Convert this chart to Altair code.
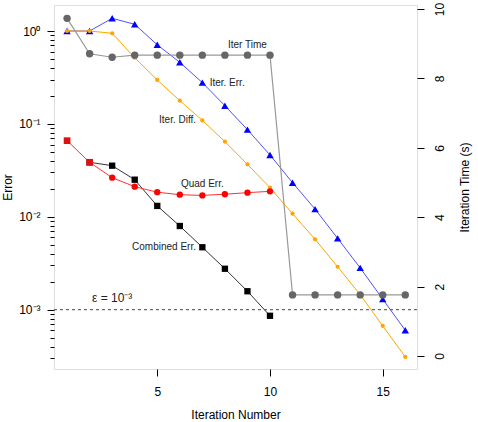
import altair as alt
import pandas as pd

# ---- data -------------------------------------------------------------
iters = list(range(1, 17))
iter_err = [1.0, 1.0, 1.37, 1.18, 0.71, 0.46, 0.278, 0.157, 0.0867, 0.0463,
            0.0233, 0.0121, 0.00586, 0.00282, 0.0013, 0.0006]
iter_diff = [1.0, 1.0, 0.945, 0.516, 0.297, 0.178, 0.109, 0.0645, 0.0367,
             0.0206, 0.0108, 0.00573, 0.0029, 0.00145, 0.00067, 0.00031]
iter_time = [9.73, 8.71, 8.61, 8.67, 8.67, 8.67, 8.67, 8.67, 8.67, 8.67,
             1.76, 1.76, 1.76, 1.76, 1.76, 1.76]

quad_iters = list(range(1, 11))
quad_err = [0.066, 0.0386, 0.0264, 0.0211, 0.0184, 0.0173, 0.0170, 0.0175,
            0.0182, 0.0188]

comb_iters = list(range(2, 11))
comb_err = [0.0386, 0.0355, 0.0251, 0.0131, 0.00796, 0.0047, 0.00276,
            0.00158, 0.00086]

epsilon = 1e-3

label_text = ["Iter Time", "Iter. Err.", "Iter. Diff.", "Quad Err.",
              "Combined Err."]
label_x = [9.0, 8.1, 5.9, 7.0, 5.3]
label_y = [0.70, 0.278, 0.110, 0.0225, 0.00476]

eps_text = ["\u03b5 = 10\u207b\u00b3"]
eps_x = [3.0]
eps_y = [0.00133]

x_ticks = [5, 10, 15]
time_ticks = [0, 2, 4, 6, 8, 10]

# ---- tables -----------------------------------------------------------
main_df = pd.DataFrame({"iter": iters, "err": iter_err, "diff": iter_diff,
                        "time": iter_time})
quad_df = pd.DataFrame({"iter": quad_iters, "err": quad_err})
comb_df = pd.DataFrame({"iter": comb_iters, "err": comb_err})
eps_df = pd.DataFrame({"eps": [epsilon]})
lab_df = pd.DataFrame({"text": label_text, "x": label_x, "y": label_y})
eps_lab_df = pd.DataFrame({"text": eps_text, "x": eps_x, "y": eps_y})

# log-axis ticks: decades plus the 2..9 multiples in between
major = [1.0, 0.1, 0.01, 0.001]
minor = [k * 10.0 ** e for e in range(-4, 0) for k in range(2, 10)]
lo, hi = 2.30e-4, 1.905
left_vals = sorted(v for v in major + minor if lo <= v <= hi)

FONT = "Liberation Sans"
LOGE = "round(log(datum.value)/LN10)"
IS_MAJOR = f"abs(log(datum.value)/LN10 - {LOGE}) < 0.01"
SUP = (f"({LOGE} == 0 ? '\u2070' : {LOGE} == -1 ? '\u207b\u00b9' : "
       f"{LOGE} == -2 ? '\u207b\u00b2' : '\u207b\u00b3')")

x_scale = alt.Scale(domain=[0.42, 16.52], nice=False, zero=False)
err_scale = alt.Scale(type="log", domain=[lo, hi], nice=False)
time_scale = alt.Scale(domain=[-0.375, 10.115], nice=False, zero=False)

x_axis = alt.Axis(values=x_ticks, title="Iteration Number", grid=False,
                  domain=False, tickSize=7, tickColor="black",
                  labelFontSize=12, labelFont=FONT, labelPadding=10,
                  labelColor="black", titleFont=FONT, titleFontSize=12,
                  titleFontWeight="normal", titlePadding=12,
                  titleColor="black")

left_axis = alt.Axis(values=left_vals, title="Error", grid=False,
                     domain=False, tickColor="black",
                     tickSize={"condition": {"test": IS_MAJOR, "value": 7},
                               "value": 4},
                     labelExpr=f"{IS_MAJOR} ? '10' + {SUP} : ''",
                     labelFontSize=12, labelFont=FONT, labelPadding=7,
                     labelColor="black", titleFont=FONT, titleFontSize=12,
                     titleFontWeight="normal", titlePadding=4,
                     titleColor="black")

right_axis = alt.Axis(values=time_ticks, title="Iteration Time (s)",
                      orient="right", grid=False, domain=False,
                      tickSize=7, tickColor="black", labelAngle=270,
                      labelAlign="center", labelBaseline="top",
                      labelFontSize=12, labelFont=FONT, labelPadding=10,
                      labelColor="black", titleFont=FONT, titleFontSize=12,
                      titleFontWeight="normal", titlePadding=26,
                      titleAngle=270, titleBaseline="bottom",
                      titleColor="black")

X = alt.X("iter:Q", scale=x_scale, axis=x_axis)


def err_y(field):
    return alt.Y(f"{field}:Q", scale=err_scale, axis=left_axis)


def series(df, field, color, shape, size, line_color):
    base = alt.Chart(df).encode(x=X, y=err_y(field))
    line = base.mark_line(color=line_color, strokeWidth=1)
    pts = base.mark_point(shape=shape, filled=True, size=size, color=color,
                          opacity=1)
    return line, pts


blue_l, blue_p = series(main_df, "err", "#0000ff", "triangle-up", 55, "#5050ff")
orng_l, orng_p = series(main_df, "diff", "#ffa500", "circle", 18, "#ffa500")
blk_l, blk_p = series(comb_df, "err", "#000000", "square", 40, "#333333")

red_base = alt.Chart(quad_df).encode(x=X, y=err_y("err"))
red_l = red_base.mark_line(color="#ff3030", strokeWidth=1)
red_c = red_base.transform_filter("datum.iter >= 3").mark_point(
    shape="circle", filled=True, size=40, color="#ff0000", opacity=1)
red_s = red_base.transform_filter("datum.iter <= 2").mark_point(
    shape="square", filled=True, size=45, color="#e01010", opacity=1)

eps_rule = alt.Chart(eps_df).mark_rule(
    color="#444444", strokeDash=[3, 3], strokeWidth=1
).encode(y=alt.Y("eps:Q", scale=err_scale, axis=left_axis))

labels = alt.Chart(lab_df).mark_text(
    font=FONT, fontSize=10, color="#222222", align="center",
    baseline="middle"
).encode(x=alt.X("x:Q", scale=x_scale, axis=x_axis),
         y=alt.Y("y:Q", scale=err_scale, axis=left_axis),
         text="text:N")

eps_label = alt.Chart(eps_lab_df).mark_text(
    font=FONT, fontSize=12, color="#222222", align="center",
    baseline="middle"
).encode(x=alt.X("x:Q", scale=x_scale, axis=x_axis),
         y=alt.Y("y:Q", scale=err_scale, axis=left_axis),
         text="text:N")

error_layer = alt.layer(blue_l, orng_l, blk_l, red_l, blue_p, orng_p,
                        blk_p, red_c, red_s, eps_rule, labels, eps_label)

time_base = alt.Chart(main_df).encode(
    x=X, y=alt.Y("time:Q", scale=time_scale, axis=right_axis))
time_layer = alt.layer(
    time_base.mark_line(color="#999999", strokeWidth=1.2),
    time_base.mark_point(shape="circle", filled=True, size=55,
                         color="#666666", opacity=1),
)

chart = alt.layer(error_layer, time_layer).resolve_scale(
    y="independent"
).properties(
    width=363, height=364,
    autosize=alt.AutoSizeParams(type="none"),
    padding={"left": 54, "top": 5, "right": 61, "bottom": 53},
).configure_view(
    stroke="black", strokeWidth=1.5
).configure(background="white")

chart.save("out.html", embed_options={"renderer": "svg", "actions": False})
